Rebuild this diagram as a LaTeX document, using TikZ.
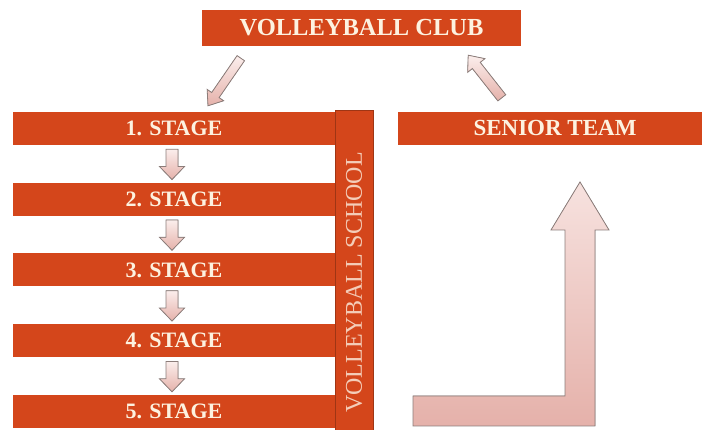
\documentclass[tikz,border=0pt]{standalone}
\usepackage{fontspec}
\setmainfont{Liberation Serif}
\usetikzlibrary{calc}
\definecolor{barred}{HTML}{D4461B}
\definecolor{bartext}{HTML}{FDF2E0}
\definecolor{schooltext}{HTML}{F4CDB9}
\definecolor{arrowtop}{HTML}{FBEEEC}
\definecolor{arrowbot}{HTML}{E5B1AA}
\definecolor{arrowline}{HTML}{8C7D7A}
\tikzset{
bar/.style={fill=barred, text=bartext, inner sep=0pt, minimum height=33pt,
  font=\fontsize{22}{24}\selectfont\bfseries},
fatarrow/.style={draw=arrowline, line width=0.8pt, line join=miter,
  top color=arrowtop, bottom color=arrowbot}
}
% from, to, half shaft, half head, head length
\newcommand{\blockarrow}[5]{%
  \filldraw[fatarrow] let \p1=(#1), \p2=(#2),
    \n1={atan2(\y2-\y1,\x2-\x1)}, \n2={veclen(\x2-\x1,\y2-\y1)-#5} in
    ($(\p1)+(\n1+90:#3pt)$) -- ($(\p1)+(\n1:\n2)+(\n1+90:#3pt)$)
    -- ($(\p1)+(\n1:\n2)+(\n1+90:#4pt)$) -- (\p2)
    -- ($(\p1)+(\n1:\n2)+(\n1-90:#4pt)$) -- ($(\p1)+(\n1:\n2)+(\n1-90:#3pt)$)
    -- ($(\p1)+(\n1-90:#3pt)$) -- cycle;
}

\begin{document}
\begin{tikzpicture}[x=1pt, y=-1pt]
\useasboundingbox (0,0) rectangle (702,430);
\clip (0,0) rectangle (702,430);
\fill[white] (0,0) rectangle (702,430);

% club on top
\node[bar, minimum width=319pt, minimum height=36pt,
  font=\fontsize{24.5}{26}\selectfont\bfseries] (club) at (361.5,28) {VOLLEYBALL CLUB};

% stages
\node[bar, minimum width=322pt] (s1) at (174,128.5) {1. STAGE};
\node[bar, minimum width=322pt] (s2) at (174,199.25) {2. STAGE};
\node[bar, minimum width=322pt] (s3) at (174,270) {3. STAGE};
\node[bar, minimum width=322pt] (s4) at (174,340.75) {4. STAGE};
\node[bar, minimum width=322pt] (s5) at (174,411.5) {5. STAGE};

\node[bar, rotate=90, minimum width=345pt, minimum height=38pt, draw=barred!75!black,
  text=schooltext, font=\fontsize{24}{26}\selectfont] (school) at (354,282.5) {VOLLEYBALL SCHOOL};

\node[bar, minimum width=314pt, font=\fontsize{23}{25}\selectfont\bfseries] (senior) at (555,128.5) {SENIOR TEAM};

% arrows between stages
\blockarrow{$(s1.south)+(-2,4)$}{$(s2.north)+(-2,-3)$}{6}{12.5}{13}
\blockarrow{$(s2.south)+(-2,4)$}{$(s3.north)+(-2,-3)$}{6}{12.5}{13}
\blockarrow{$(s3.south)+(-2,4)$}{$(s4.north)+(-2,-3)$}{6}{12.5}{13}
\blockarrow{$(s4.south)+(-2,4)$}{$(s5.north)+(-2,-3)$}{6}{12.5}{13}

% club arrows
\blockarrow{$(club.south west)+(39,12)$}{$(s1.north)+(34,-6)$}{4.5}{10}{13}
\blockarrow{$(senior.north west)+(104,-14)$}{$(club.south east)+(-53,9)$}{5}{11}{13}

% big bent arrow
\filldraw[fatarrow, top color=arrowtop!80!arrowbot]
  (413,396) -- (565,396) -- (565,230) -- (551,230) -- (580,182)
  -- (609,230) -- (595,230) -- (595,426) -- (413,426) -- cycle;
\end{tikzpicture}
\end{document}
